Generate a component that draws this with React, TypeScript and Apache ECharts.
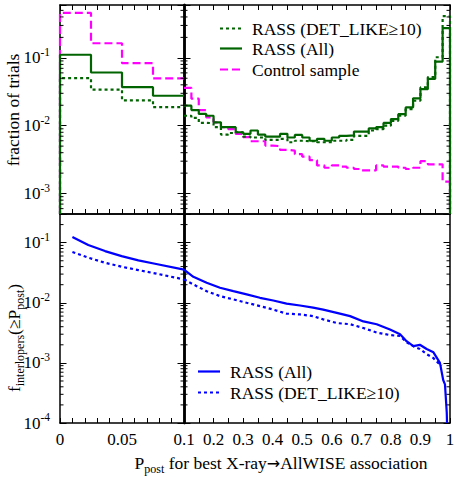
import React, { useEffect, useRef } from 'react';
import * as echarts from 'echarts';

const FONT = 'Liberation Serif, DejaVu Serif, serif';
const GREEN = '#006400';
const MAGENTA = '#ff00ff';
const BLUE = '#0000ff';

// ---------- top panel: histograms (fraction of trials) ----------
const leftBinEdges = [0, 0.025, 0.05, 0.075, 0.1];
const rightBinEdges = Array.from({ length: 37 }, (_, i) => Math.round((0.1 + i * 0.025) * 1000) / 1000);

const controlLeft = [0.46, 0.164, 0.0835, 0.0497];
const rassAllLeft = [0.111, 0.0608, 0.037, 0.0276];
const rassDetLeft = [0.0502, 0.0339, 0.0236, 0.0188];

const rassAllRight = [
  0.0197, 0.017, 0.0149, 0.014, 0.0112, 0.0095, 0.0095, 0.008, 0.0076, 0.0085, 0.0074, 0.0069,
  0.0069, 0.0076, 0.0067, 0.0073, 0.0067, 0.006, 0.0064, 0.006, 0.0067, 0.0071, 0.0072, 0.0082,
  0.0082, 0.0091, 0.0095, 0.011, 0.0125, 0.0148, 0.0186, 0.0253, 0.0345, 0.049, 0.088, 0.273,
];
const rassDetRight = [
  0.014, 0.013, 0.011, 0.0109, 0.0095, 0.0074, 0.0078, 0.008, 0.0069, 0.0067, 0.0067, 0.0062,
  0.0062, 0.0064, 0.0057, 0.006, 0.0059, 0.0059, 0.0057, 0.0057, 0.006, 0.006, 0.0062, 0.0071,
  0.0071, 0.0085, 0.0089, 0.01, 0.0118, 0.014, 0.0176, 0.0233, 0.0366, 0.052, 0.102, 0.41,
];
const controlRight = [
  0.036, 0.025, 0.017, 0.0133, 0.0112, 0.0095, 0.0089, 0.0076, 0.0068, 0.0059, 0.0059, 0.0051,
  0.005, 0.0044, 0.0043, 0.0038, 0.0035, 0.0031, 0.0026, 0.0024, 0.0026, 0.0025, 0.0024, 0.0023,
  0.0022, 0.0022, 0.0026, 0.0025, 0.0025, 0.0024, 0.0023, 0.0024, 0.003, 0.0027, 0.0027, 0.0015,
];

// ---------- bottom panel: interloper fraction curves ----------
const allLeftP = [0.01, 0.0228, 0.0363, 0.0497, 0.0632, 0.0766, 0.1];
const allLeftF = [0.124, 0.0912, 0.0725, 0.0598, 0.0507, 0.0446, 0.0357];
const detLeftP = [0.01, 0.0228, 0.0363, 0.0497, 0.0632, 0.0766, 0.1];
const detLeftF = [0.07, 0.0562, 0.0464, 0.0398, 0.035, 0.0309, 0.0245];

const allRightP = [
  0.1, 0.1316, 0.1767, 0.2218, 0.2669, 0.312, 0.357, 0.402, 0.447, 0.4925, 0.537, 0.571, 0.617,
  0.662, 0.707, 0.752, 0.797, 0.831, 0.853, 0.876, 0.898, 0.921, 0.944, 0.966, 0.977, 0.983, 0.989, 0.99,
];
const allRightF = [
  0.0357, 0.0271, 0.0216, 0.0178, 0.0156, 0.0138, 0.0121, 0.0109, 0.0097, 0.009, 0.0083, 0.0077,
  0.0068, 0.006, 0.0049, 0.0044, 0.0036, 0.003, 0.0023, 0.0019, 0.002, 0.0017, 0.0015, 0.001,
  0.00052, 0.00044, 0.00015, 0.0001,
];
const detRightP = [
  0.1, 0.1316, 0.1767, 0.2218, 0.2669, 0.312, 0.357, 0.402, 0.447, 0.4925, 0.537, 0.571, 0.617,
  0.662, 0.707, 0.752, 0.797, 0.831, 0.853, 0.876, 0.898, 0.921, 0.944, 0.96, 0.972,
];
const detRightF = [
  0.0245, 0.0202, 0.0156, 0.0129, 0.0114, 0.01, 0.0088, 0.0077, 0.0066, 0.0064, 0.006, 0.0053,
  0.0046, 0.0044, 0.0038, 0.0032, 0.0029, 0.0028, 0.0022, 0.0019, 0.0017, 0.0014, 0.0012, 0.001, 0.0009,
];

const topRange = [5e-4, 0.6];
const bottomRange = [1e-4, 0.3];

const legendTopItems = [
  { label: 'RASS (DET_LIKE≥10)', color: GREEN, dash: [3, 3] },
  { label: 'RASS (All)', color: GREEN, dash: null },
  { label: 'Control sample', color: MAGENTA, dash: [8, 4] },
];
const legendBottomItems = [
  { label: 'RASS (All)', color: BLUE, dash: null },
  { label: 'RASS (DET_LIKE≥10)', color: BLUE, dash: [3, 3] },
];

function minorTicks(lo: number, hi: number) {
  const out: number[] = [];
  for (let e = -5; e <= 1; e++) {
    for (let k = 2; k <= 9; k++) {
      const v = k * Math.pow(10, e);
      if (v > lo * 1.0001 && v < hi * 0.9999) out.push(v);
    }
  }
  return out;
}

function stepPoints(edges: number[], vals: number[], floor: number, startFloor: boolean, endFloor: boolean) {
  const pts: number[][] = [];
  if (startFloor) pts.push([edges[0], floor]);
  vals.forEach((v, i) => {
    pts.push([edges[i], v]);
    pts.push([edges[i + 1], v]);
  });
  if (endFloor) pts.push([edges[edges.length - 1], floor]);
  return pts;
}

function zip(xs: number[], ys: number[]) {
  return xs.map((x, i) => [x, ys[i]]);
}

function lineSeries(name: string, xi: number, data: number[][], color: string, dash: any) {
  return {
    type: 'line',
    name,
    xAxisIndex: xi,
    yAxisIndex: xi,
    data,
    showSymbol: false,
    symbol: 'none',
    silent: true,
    lineStyle: { color, width: 2.2, type: dash || 'solid' },
    z: 3,
  };
}

function minorTickSeries(axisIndex: number, xRef: number, values: number[]) {
  return {
    type: 'custom',
    xAxisIndex: axisIndex,
    yAxisIndex: axisIndex,
    silent: true,
    clip: false,
    z: 4,
    data: values.map((v) => [xRef, v]),
    renderItem: (params: any, api: any) => {
      const cs = params.coordSys;
      const y = api.coord([api.value(0), api.value(1)])[1];
      const L = 3.5;
      const st = { stroke: '#000', lineWidth: 1 };
      return {
        type: 'group',
        children: [
          { type: 'line', shape: { x1: cs.x, y1: y, x2: cs.x + L, y2: y }, style: st },
          { type: 'line', shape: { x1: cs.x + cs.width - L, y1: y, x2: cs.x + cs.width, y2: y }, style: st },
        ],
      };
    },
  };
}

const tickLine = { color: '#000', width: 1 };

function xAxis(gridIndex: number, position: string, left: boolean, showTicks: boolean, showLabels: boolean) {
  return {
    type: 'value',
    gridIndex,
    position,
    min: left ? 0 : 0.1,
    max: left ? 0.1 : 1,
    interval: left ? 0.01 : 0.05,
    axisLine: { show: true, onZero: false, lineStyle: { color: '#000', width: 1.5 } },
    axisTick: { show: showTicks, inside: true, length: 5, lineStyle: tickLine },
    splitLine: { show: false },
    axisLabel: showLabels
      ? {
          show: true,
          margin: 8,
          fontSize: 17,
          fontFamily: FONT,
          color: '#000',
          formatter: (v: number) => {
            if (left) {
              if (Math.abs(v) < 1e-9) return '0';
              if (Math.abs(v - 0.05) < 1e-9) return '0.05';
              if (Math.abs(v - 0.1) < 1e-9) return '0.1';
              return '';
            }
            const k = Math.round(v * 10);
            if (Math.abs(v * 10 - k) > 1e-6 || k === 1) return '';
            return k === 10 ? '1' : '0.' + k;
          },
        }
      : { show: false },
  };
}

function yAxis(gridIndex: number, position: string, range: number[], showLabels: boolean, width: number) {
  return {
    type: 'log',
    logBase: 10,
    gridIndex,
    position,
    min: range[0],
    max: range[1],
    axisLine: { show: true, onZero: false, lineStyle: { color: '#000', width } },
    axisTick: { show: true, inside: true, length: 6.5, lineStyle: tickLine },
    minorTick: { show: false },
    splitLine: { show: false },
    axisLabel: showLabels
      ? {
          show: true,
          margin: 10,
          color: '#000',
          fontFamily: FONT,
          fontSize: 17,
          formatter: (v: number) => {
            const l = Math.log10(v);
            const e = Math.round(l);
            if (Math.abs(l - e) > 1e-6) return '';
            return '{b|10}{sup|' + e + '}';
          },
          rich: {
            b: { fontSize: 17, fontFamily: FONT, color: '#000', lineHeight: 24 },
            sup: { fontSize: 11.5, fontFamily: FONT, color: '#000', lineHeight: 12, verticalAlign: 'top' },
          },
        }
      : { show: false },
  };
}

export default function App() {
  const ref = useRef<HTMLDivElement>(null);
  useEffect(() => {
    document.body.style.margin = '0';
    const chart = echarts.init(ref.current!, null, { renderer: 'svg' });
    const T = 5, H = 209, L = 60, D = 184, R = 450;

    const grid = [
      { left: L, top: T, width: D - L, height: H },
      { left: D, top: T, width: R - D, height: H },
      { left: L, top: T + H, width: D - L, height: H },
      { left: D, top: T + H, width: R - D, height: H },
    ];

    const xAxes = [
      xAxis(0, 'bottom', true, true, false),
      xAxis(0, 'top', true, true, false),
      xAxis(1, 'bottom', false, true, false),
      xAxis(1, 'top', false, true, false),
      xAxis(2, 'bottom', true, true, true),
      xAxis(2, 'top', true, false, false),
      xAxis(3, 'bottom', false, true, true),
      xAxis(3, 'top', false, false, false),
    ];
    const yAxes = [
      yAxis(0, 'left', topRange, true, 1.5),
      yAxis(0, 'right', topRange, false, 2.5),
      yAxis(1, 'left', topRange, false, 2.5),
      yAxis(1, 'right', topRange, false, 1.5),
      yAxis(2, 'left', bottomRange, true, 1.5),
      yAxis(2, 'right', bottomRange, false, 2.5),
      yAxis(3, 'left', bottomRange, false, 2.5),
      yAxis(3, 'right', bottomRange, false, 1.5),
    ];

    const tf = topRange[0];
    const series: any[] = [
      lineSeries('Control sample', 0, stepPoints(leftBinEdges, controlLeft, tf, true, false), MAGENTA, [8, 4]),
      lineSeries('RASS (All)', 0, stepPoints(leftBinEdges, rassAllLeft, tf, true, false), GREEN, null),
      lineSeries('RASS (DET_LIKE≥10)', 0, stepPoints(leftBinEdges, rassDetLeft, tf, true, false), GREEN, [3, 3]),
      lineSeries('Control sample r', 2, stepPoints(rightBinEdges, controlRight, tf, false, true), MAGENTA, [8, 4]),
      lineSeries('RASS (All) r', 2, stepPoints(rightBinEdges, rassAllRight, tf, false, true), GREEN, null),
      lineSeries('RASS (DET_LIKE≥10) r', 2, stepPoints(rightBinEdges, rassDetRight, tf, false, true), GREEN, [3, 3]),
      lineSeries('f all l', 4, zip(allLeftP, allLeftF), BLUE, null),
      lineSeries('f det l', 4, zip(detLeftP, detLeftF), BLUE, [3, 3]),
      lineSeries('f all r', 6, zip(allRightP, allRightF), BLUE, null),
      lineSeries('f det r', 6, zip(detRightP, detRightF), BLUE, [3, 3]),
      minorTickSeries(0, 0, minorTicks(topRange[0], topRange[1])),
      minorTickSeries(2, 0.1, minorTicks(topRange[0], topRange[1])),
      minorTickSeries(4, 0, minorTicks(bottomRange[0], bottomRange[1])),
      minorTickSeries(6, 0.1, minorTicks(bottomRange[0], bottomRange[1])),
    ];

    const graphic: any[] = [];
    const textEl = (text: string, x: number, y: number) => ({
      type: 'text',
      x,
      y,
      style: { text, fontSize: 17.5, fontFamily: FONT, fill: '#000', align: 'left', verticalAlign: 'middle' },
    });
    legendTopItems.forEach((it, i) => {
      const y = [28.5, 48.5, 69.5][i];
      graphic.push({
        type: 'line',
        shape: { x1: 220, y1: y, x2: 242, y2: y },
        style: { stroke: it.color, lineWidth: 2.2, lineDash: it.dash || null },
      });
      graphic.push(textEl(it.label, 252, y + 0.5));
    });
    legendBottomItems.forEach((it, i) => {
      const y = [371.5, 392.5][i];
      graphic.push({
        type: 'line',
        shape: { x1: 198, y1: y, x2: 220, y2: y },
        style: { stroke: it.color, lineWidth: 2.2, lineDash: it.dash || null },
      });
      graphic.push(textEl(it.label, 230, y + 0.5));
    });
    graphic.push({
      type: 'text',
      x: 13,
      y: 110,
      rotation: Math.PI / 2,
      style: {
        text: 'fraction of trials',
        fontSize: 17.5,
        fontFamily: FONT,
        fill: '#000',
        align: 'center',
        verticalAlign: 'middle',
      },
    });
    const richTitle = {
      b: { fontSize: 17.5, fontFamily: FONT, fill: '#000', lineHeight: 24 },
      s: { fontSize: 12, fontFamily: FONT, fill: '#000', lineHeight: 12, verticalAlign: 'bottom' },
      arr: { fontSize: 16, fontFamily: 'DejaVu Sans', fill: '#000', lineHeight: 24 },
    };
    graphic.push({
      type: 'text',
      x: 14,
      y: 338,
      rotation: Math.PI / 2,
      style: {
        text: '{b|f}{s|interlopers}{b|(≥P}{s|post}{b|)}',
        fontSize: 17.5,
        fontFamily: FONT,
        fill: '#000',
        align: 'center',
        verticalAlign: 'middle',
        rich: richTitle,
      },
    });
    graphic.push({
      type: 'text',
      x: 281,
      y: 463,
      style: {
        text: '{b|P}{s|post}{b| for best X-ray}{arr|→}{b|AllWISE association}',
        fontSize: 17.5,
        fontFamily: FONT,
        fill: '#000',
        align: 'center',
        verticalAlign: 'middle',
        rich: richTitle,
      },
    });

    chart.setOption({
      animation: false,
      backgroundColor: '#fff',
      textStyle: { fontFamily: FONT },
      grid,
      xAxis: xAxes,
      yAxis: yAxes,
      series,
      graphic,
    });
    return () => chart.dispose();
  }, []);
  return <div ref={ref} style={{ width: 458, height: 486 }} />;
}
